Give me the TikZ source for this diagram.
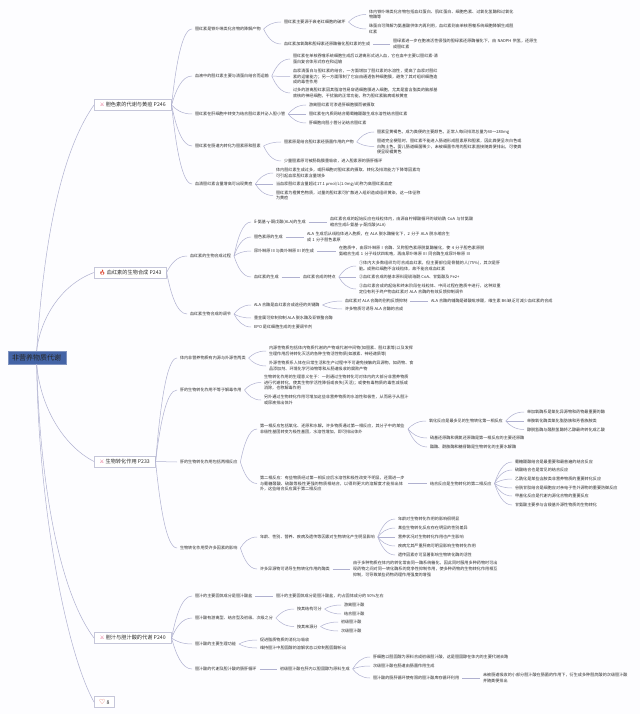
\documentclass[tikz,border=0pt]{standalone}
\usepackage{fontspec}
\usetikzlibrary{calc}
\setmainfont{Noto Sans CJK SC}
\newfontfamily\emojifont{Noto Emoji}
\newfontfamily\symfont{DejaVu Sans}
\XeTeXlinebreaklocale "zh"
\XeTeXlinebreakskip=0pt plus .5pt
\definecolor{pagebg}{HTML}{FDFDFF}
\definecolor{linkcol}{HTML}{B0B1D0}
\definecolor{boxline}{HTML}{C6C7DA}
\definecolor{txtcol}{HTML}{2E2E2E}
\definecolor{rootcol}{HTML}{4464A6}
\definecolor{rootline}{HTML}{7F93C0}
\definecolor{iconpink}{HTML}{E0507A}
\definecolor{iconred}{HTML}{D8351E}
\tikzset{
  leaf/.style={anchor=west,xshift=3pt,inner sep=0pt,outer xsep=3pt,outer ysep=0pt,text=txtcol,font=\fontsize{4.1}{5.8}\selectfont},
  wrap/.style={leaf,text width=145pt,align=left},
  topbox/.style={anchor=west,draw=boxline,line width=.6pt,fill=white,inner sep=0pt,minimum height=11pt,text=txtcol,font=\fontsize{5.2}{6}\selectfont},
  link/.style={draw=linkcol,line width=.5pt},
  fork/.style={to path={let \p1=(\tikztostart),\p2=(\tikztotarget) in .. controls ({\x1+.2*(\x2-\x1)},{\y1+.5*(\y2-\y1)}) and ({\x1+.5*(\x2-\x1)},{\y2}) .. (\tikztotarget)}}
}
\newcommand{\toolicon}{{\symfont\textcolor{iconpink}{⚔}}}
\begin{document}
\begin{tikzpicture}[x=1pt,y=-1pt]
\useasboundingbox (0,0) rectangle (640,714);
\fill [pagebg] (0,0) rectangle (640,714);

\node [anchor=west,fill=rootcol,draw=rootline,line width=.4pt,inner sep=0pt,minimum width=58pt,minimum height=13pt,font=\fontsize{7}{8}\selectfont,text=black!85] at (7.5,357.5) (root) {非营养物质代谢};
\node [topbox,minimum width=77pt] at (94,105) (pig) {\toolicon\ 胆色素的代谢与黄疸 P246};
\node [topbox,minimum width=72pt] at (94,272.5) (heme) {{\emojifont\textcolor{iconred}{🔥}}\ 血红素的生物合成 P243};
\node [topbox,minimum width=61pt] at (94,461.5) (trans) {\toolicon\ 生物转化作用 P233};
\node [topbox,minimum width=77pt] at (94,638) (bile) {\toolicon\ 胆汁与胆汁酸的代谢 P240};
\node [topbox,minimum width=20pt] at (94,702) (fav) {{\symfont\fontsize{7}{7}\selectfont\textcolor{iconred}{♡}}\ 8};

\draw [link] (root.north) .. controls (42,270) and (55,160) .. (pig.west);
\draw [link] (root.north) .. controls (40,320) and (60,285) .. (heme.west);
\draw [link] (root.south) .. controls (40,405) and (62,445) .. (trans.west);
\draw [link] (root.south) .. controls (40,480) and (58,590) .. (bile.west);
\draw [link] (root.south) .. controls (38,500) and (65,650) .. (fav.west);

% 胆色素
\node [leaf] at (189,29) (p1) {胆红素是铁卟啉类化合物的降解产物};
\node [leaf] at (278,22) (p11) {胆红素主要源于衰老红细胞的破坏};
\node [wrap] at (363,14.5) (p111) {体内铁卟啉类化合物包括血红蛋白、肌红蛋白、细胞色素、过氧化氢酶和过氧化物酶等};
\node [wrap] at (363,29) (p112) {珠蛋白可降解为氨基酸供体内再利用，血红素则由单核吞噬系统细胞降解生成胆红素};
\node [leaf] at (278,44) (p12) {血红素加氧酶和胆绿素还原酶催化胆红素的生成};
\node [wrap] at (387,44) (p121) {胆绿素进一步在胞液活性很强的胆绿素还原酶催化下，由 NADPH 供氢，还原生成胆红素};
\node [leaf] at (189,76) (p2) {血液中的胆红素主要与清蛋白结合而运输};
\node [wrap] at (287,59) (p21) {胆红素在单核吞噬系统细胞生成后以游离形式进入血，它在血中主要以胆红素-清蛋白复合体形式存在和运输};
\node [wrap] at (287,76.5) (p22) {血浆清蛋白与胆红素的结合，一方面增加了胆红素的水溶性，提高了血浆对胆红素的运输能力；另一方面限制了它自由通透各种细胞膜，避免了其对组织细胞造成的毒性作用};
\node [wrap] at (287,93) (p23) {过多的游离胆红素因其脂溶性易穿透细胞膜进入细胞，尤其是富含脂类的脑部基底核的神经细胞，干扰脑的正常功能，称为胆红素脑病或核黄疸};
\node [leaf] at (189,114) (p3) {胆红素在肝细胞中转变为结合胆红素并泌入胆小管};
\node [leaf] at (303,105) (p31) {游离胆红素可渗透肝细胞膜而被摄取};
\node [leaf] at (303,114) (p32) {胆红素在内质网结合葡萄糖醛酸生成水溶性结合胆红素};
\node [leaf] at (303,123) (p33) {肝细胞向胆小管分泌结合胆红素};
\node [leaf] at (189,146) (p4) {胆红素在肠道内转化为胆素原和胆素};
\node [leaf] at (278,142) (p41) {胆素原是结合胆红素经肠菌作用的产物};
\node [leaf] at (371,132) (p411) {胆素呈黄褐色，成为粪便的主要颜色，正常人每日排泄总量为40～280mg};
\node [wrap] at (371,146.5) (p412) {胆道完全梗阻时，胆红素不能进入肠道形成胆素原和胆素，因此粪便呈灰白色或白陶土色。婴儿肠道细菌稀少，未被细菌作用的胆红素直接随粪便排出，可使粪便呈现橘黄色};
\node [leaf] at (278,161) (p42) {少量胆素原可被肠黏膜重吸收，进入胆素原的肠肝循环};
\node [leaf] at (189,184) (p5) {血清胆红素含量增高可出现黄疸};
\node [wrap] at (270,173) (p51) {体内胆红素生成过多，或肝细胞对胆红素的摄取、转化及排泄能力下降等因素均可引起血浆胆红素含量增多};
\node [leaf] at (270,184) (p52) {当血浆胆红素含量超过17.1 μmol/L(1.0mg/dl)称为高胆红素血症};
\node [wrap] at (270,195.5) (p53) {胆红素为橙黄色物质，过量的胆红素可扩散进入组织造成组织黄染，这一体征称为黄疸};

\draw [link] (pig.east) to [fork] (p1.west);
\draw [link] (pig.east) to [fork] (p2.west);
\draw [link] (pig.east) to [fork] (p3.west);
\draw [link] (pig.east) to [fork] (p4.west);
\draw [link] (pig.east) to [fork] (p5.west);
\draw [link] (p1.east) to [fork] (p11.west);
\draw [link] (p1.east) to [fork] (p12.west);
\draw [link] (p11.east) to [fork] (p111.west);
\draw [link] (p11.east) to [fork] (p112.west);
\draw [link] (p12.east) -- (p121.west);
\draw [link] (p2.east) to [fork] (p21.west);
\draw [link] (p2.east) to [fork] (p22.west);
\draw [link] (p2.east) to [fork] (p23.west);
\draw [link] (p3.east) to [fork] (p31.west);
\draw [link] (p3.east) -- (p32.west);
\draw [link] (p3.east) to [fork] (p33.west);
\draw [link] (p4.east) to [fork] (p41.west);
\draw [link] (p4.east) to [fork] (p42.west);
\draw [link] (p41.east) to [fork] (p411.west);
\draw [link] (p41.east) to [fork] (p412.west);
\draw [link] (p5.east) to [fork] (p51.west);
\draw [link] (p5.east) -- (p52.west);
\draw [link] (p5.east) to [fork] (p53.west);

% 血红素
\node [leaf] at (184,256) (h1) {血红素的生物合成过程};
\node [leaf] at (248,222) (h11) {δ-氨基-γ-酮戊酸(ALA)的生成};
\node [wrap,text width=144pt] at (324,222) (h111) {血红素合成的起始反应在线粒体内，由源自柠檬酸循环的琥珀酰 CoA 与甘氨酸缩合生成δ-氨基-γ-酮戊酸(ALA)};
\node [leaf] at (248,237) (h12) {胆色素原的生成};
\node [wrap,text width=143pt] at (301,237) (h121) {ALA 生成后从线粒体进入胞质，在 ALA 脱水酶催化下，2 分子 ALA 脱水缩合生成 1 分子胆色素原};
\node [leaf] at (248,251) (h13) {尿卟啉原 III 与粪卟啉原 III 的生成};
\node [wrap,text width=146pt] at (333,251) (h131) {在胞质中，由尿卟啉原 I 合酶、又称胆色素原脱氨酶催化，使 4 分子胆色素原脱氨缩合生成 1 分子线状四吡咯，再由尿卟啉原 III 同合酶生成尿卟啉原 III};
\node [leaf] at (248,277) (h14) {血红素的生成};
\node [leaf] at (297,277) (h141) {血红素合成的特点};
\node [wrap,text width=143pt] at (353,266) (h1411) {①体内大多数组织均可合成血红素，但主要部位是骨髓的人(75\%)，其次是肝脏。成熟红细胞不含线粒体，故不能合成血红素};
\node [leaf] at (353,277) (h1412) {②血红素合成的基本原料是琥珀酰 CoA、甘氨酸及 Fe2+};
\node [wrap,text width=143pt] at (353,289) (h1413) {③血红素合成的起始和终末阶段在线粒体、中间过程在胞质中进行，这种双重定位有利于终产物血红素对 ALA 合酶的有效反馈抑制调节};
\node [leaf] at (184,314) (h2) {血红素生物合成的调节};
\node [leaf] at (248,305) (h21) {ALA 合酶是血红素合成途径的关键酶};
\node [leaf] at (339,301) (h211) {血红素对 ALA 合酶的别构反馈抑制};
\node [leaf] at (425,301) (h2111) {ALA 合酶的辅酶是磷酸吡哆醛，维生素 B6 缺乏可减少血红素的合成};
\node [leaf] at (339,309) (h212) {许多物质可诱导 ALA 合酶的合成};
\node [leaf] at (248,318) (h22) {重金属可抑制抑制 ALA 脱水酶及亚铁螯合酶};
\node [leaf] at (248,327) (h23) {EPO 是红细胞生成的主要调节剂};

\draw [link] (heme.east) to [fork] (h1.west);
\draw [link] (heme.east) to [fork] (h2.west);
\draw [link] (h1.east) to [fork] (h11.west);
\draw [link] (h1.east) to [fork] (h12.west);
\draw [link] (h1.east) to [fork] (h13.west);
\draw [link] (h1.east) to [fork] (h14.west);
\draw [link] (h11.east) -- (h111.west);
\draw [link] (h12.east) -- (h121.west);
\draw [link] (h13.east) -- (h131.west);
\draw [link] (h14.east) -- (h141.west);
\draw [link] (h141.east) to [fork] (h1411.west);
\draw [link] (h141.east) -- (h1412.west);
\draw [link] (h141.east) to [fork] (h1413.west);
\draw [link] (h2.east) to [fork] (h21.west);
\draw [link] (h2.east) to [fork] (h22.west);
\draw [link] (h2.east) to [fork] (h23.west);
\draw [link] (h21.east) to [fork] (h211.west);
\draw [link] (h21.east) to [fork] (h212.west);
\draw [link] (h211.east) -- (h2111.west);

% 生物转化
\node [leaf] at (174,358) (t1) {体内非营养物质有内源与外源性两类};
\node [wrap] at (263,351) (t11) {内源性物质包括体内物质代谢的产物或代谢中间物(如胆素、胆红素等)以及发挥生理作用后待转化灭活的各种生物活性物质(如激素、神经递质等)};
\node [wrap] at (263,366) (t12) {外源性物质系人体在日常生活和生产过程中不可避免接触的异源物，如药物、食品添加剂、环境化学污染物等和从肠道吸收的腐败产物};
\node [leaf] at (174,390) (t2) {肝的生物转化作用不等于解毒作用};
\node [wrap] at (258,382.5) (t21) {生物转化作用的生理意义在于：一则通过生物转化可对体内的大部分非营养物质进行代谢转化，使其生物学活性降低或丧失(灭活)；或使有毒物质的毒性减低或消除，也称解毒作用};
\node [wrap] at (258,400) (t22) {另外通过生物转化作用可增加这些非营养物质的水溶性和极性，从而易于从胆汁或尿液排出体外};
\node [leaf] at (174,462) (t3) {肝的生物转化作用包括两相反应};
\node [wrap] at (254,429) (t31) {第一相反应包括氧化、还原和水解。许多物质通过第一相反应，其分子中的某些非极性基团转变为极性基团，水溶性增加，即可排出体外};
\node [leaf] at (423,421) (t311) {氧化反应是最多见的生物转化第一相反应};
\node [leaf] at (521,412) (t3111) {单加氧酶系是氧化异源物和药物最重要的酶};
\node [leaf] at (521,421) (t3112) {单胺氧化酶类氧化脂肪族和芳香族胺类};
\node [leaf] at (521,429.5) (t3113) {醇脱氢酶与醛脱氢酶将乙醇最终转化成乙酸};
\node [leaf] at (424,438) (t312) {硝基还原酶和偶氮还原酶是第一相反应的主要还原酶};
\node [leaf] at (424,447) (t313) {酯酶、酰胺酶和糖苷酶是生物转化的主要水解酶};
\node [wrap] at (254,483.5) (t32) {第二相反应：有些物质经过第一相反应后水溶性和极性改变不明显，还需进一步与葡糖醛酸、硫酸等极性更强的物质相结合，以得到更大的溶解度才能排出体外，这些结合反应属于第二相反应};
\node [leaf] at (424,483.5) (t321) {结合反应是生物转化的第二相反应};
\node [leaf] at (509,462) (t3211) {葡糖醛酸结合是最重要和最普遍的结合反应};
\node [leaf] at (509,470) (t3212) {硫酸结合也是常见的结合反应};
\node [leaf] at (509,479) (t3213) {乙酰化是某些含胺类非营养物质的重要转化反应};
\node [leaf] at (509,488) (t3214) {谷胱甘肽结合是细胞应对亲电子性外源物的重要防御反应};
\node [leaf] at (509,496) (t3215) {甲基化反应是代谢内源化合物的重要反应};
\node [leaf] at (509,505) (t3216) {甘氨酸主要参与含羧基外源性物质的生物转化};
\node [leaf] at (174,548) (t4) {生物转化作用受许多因素的影响};
\node [leaf] at (254,537) (t41) {年龄、性别、营养、疾病及遗传等因素对生物转化产生明显影响};
\node [leaf] at (392,519) (t411) {年龄对生物转化作用的影响很明显};
\node [leaf] at (392,528) (t412) {某些生物转化反应存在明显的性别差异};
\node [leaf] at (392,537) (t413) {营养状况对生物转化作用也产生影响};
\node [leaf] at (392,546) (t414) {疾病尤其严重肝病可明显影响生物转化作用};
\node [leaf] at (392,555) (t415) {遗传因素亦可显著影响生物转化酶的活性};
\node [leaf] at (254,569) (t42) {许多异源物可诱导生物转化作用的酶类};
\node [wrap] at (347,569) (t421) {由于多种物质在体内的转化常由同一酶系统催化，因此同时服用多种药物时可出现药物之间对同一转化酶系的竞争性抑制作用，使多种药物的生物转化作用相互抑制，可导致某些药物药理作用强度的增强};

\draw [link] (trans.east) to [fork] (t1.west);
\draw [link] (trans.east) to [fork] (t2.west);
\draw [link] (trans.east) -- (t3.west);
\draw [link] (trans.east) to [fork] (t4.west);
\draw [link] (t1.east) to [fork] (t11.west);
\draw [link] (t1.east) to [fork] (t12.west);
\draw [link] (t2.east) to [fork] (t21.west);
\draw [link] (t2.east) to [fork] (t22.west);
\draw [link] (t3.east) to [fork] (t31.west);
\draw [link] (t3.east) to [fork] (t32.west);
\draw [link] (t31.east) to [fork] (t311.west);
\draw [link] (t31.east) to [fork] (t312.west);
\draw [link] (t31.east) to [fork] (t313.west);
\draw [link] (t311.east) to [fork] (t3111.west);
\draw [link] (t311.east) -- (t3112.west);
\draw [link] (t311.east) to [fork] (t3113.west);
\draw [link] (t32.east) -- (t321.west);
\draw [link] (t321.east) to [fork] (t3211.west);
\draw [link] (t321.east) to [fork] (t3212.west);
\draw [link] (t321.east) to [fork] (t3213.west);
\draw [link] (t321.east) to [fork] (t3214.west);
\draw [link] (t321.east) to [fork] (t3215.west);
\draw [link] (t321.east) to [fork] (t3216.west);
\draw [link] (t4.east) to [fork] (t41.west);
\draw [link] (t4.east) to [fork] (t42.west);
\draw [link] (t41.east) to [fork] (t411.west);
\draw [link] (t41.east) to [fork] (t412.west);
\draw [link] (t41.east) -- (t413.west);
\draw [link] (t41.east) to [fork] (t414.west);
\draw [link] (t41.east) to [fork] (t415.west);
\draw [link] (t42.east) -- (t421.west);

% 胆汁
\node [leaf] at (189,596) (b1) {胆汁的主要固体成分是胆汁酸盐};
\node [leaf] at (270,596) (b11) {胆汁的主要固体成分是胆汁酸盐，约占固体成分的 50\%左右};
\node [leaf] at (189,618) (b2) {胆汁酸有游离型、结合型及初级、次级之分};
\node [leaf] at (291,609) (b21) {按其结构可分};
\node [leaf] at (338,605) (b211) {游离胆汁酸};
\node [leaf] at (338,614) (b212) {结合胆汁酸};
\node [leaf] at (291,626.5) (b22) {按其来源分};
\node [leaf] at (335,622) (b221) {初级胆汁酸};
\node [leaf] at (335,631) (b222) {次级胆汁酸};
\node [leaf] at (189,644) (b3) {胆汁酸的主要生理功能};
\node [leaf] at (254,640) (b31) {促进脂质物质的消化与吸收};
\node [leaf] at (254,648) (b32) {维持胆汁中胆固醇的溶解状态以抑制胆固醇析出};
\node [leaf] at (189,669) (b4) {胆汁酸的代谢及胆汁酸的肠肝循环};
\node [leaf] at (274,669) (b41) {初级胆汁酸在肝内以胆固醇为原料生成};
\node [leaf] at (367,657) (b411) {肝细胞以胆固醇为原料合成初级胆汁酸，这是胆固醇在体内的主要代谢去路};
\node [leaf] at (367,666) (b412) {次级胆汁酸在肠道由肠菌作用生成};
\node [leaf] at (367,678) (b413) {胆汁酸的肠肝循环使有限的胆汁酸库存循环利用};
\node [wrap] at (477,678) (b4131) {未被肠道吸收的小部分胆汁酸在肠菌的作用下，衍生成多种胆烷酸的次级胆汁酸并随粪便排出};

\draw [link] (bile.east) to [fork] (b1.west);
\draw [link] (bile.east) to [fork] (b2.west);
\draw [link] (bile.east) to [fork] (b3.west);
\draw [link] (bile.east) to [fork] (b4.west);
\draw [link] (b1.east) -- (b11.west);
\draw [link] (b2.east) to [fork] (b21.west);
\draw [link] (b2.east) to [fork] (b22.west);
\draw [link] (b21.east) to [fork] (b211.west);
\draw [link] (b21.east) to [fork] (b212.west);
\draw [link] (b22.east) to [fork] (b221.west);
\draw [link] (b22.east) to [fork] (b222.west);
\draw [link] (b3.east) to [fork] (b31.west);
\draw [link] (b3.east) to [fork] (b32.west);
\draw [link] (b4.east) -- (b41.west);
\draw [link] (b41.east) to [fork] (b411.west);
\draw [link] (b41.east) to [fork] (b412.west);
\draw [link] (b41.east) to [fork] (b413.west);
\draw [link] (b413.east) -- (b4131.west);
\end{tikzpicture}
\end{document}
